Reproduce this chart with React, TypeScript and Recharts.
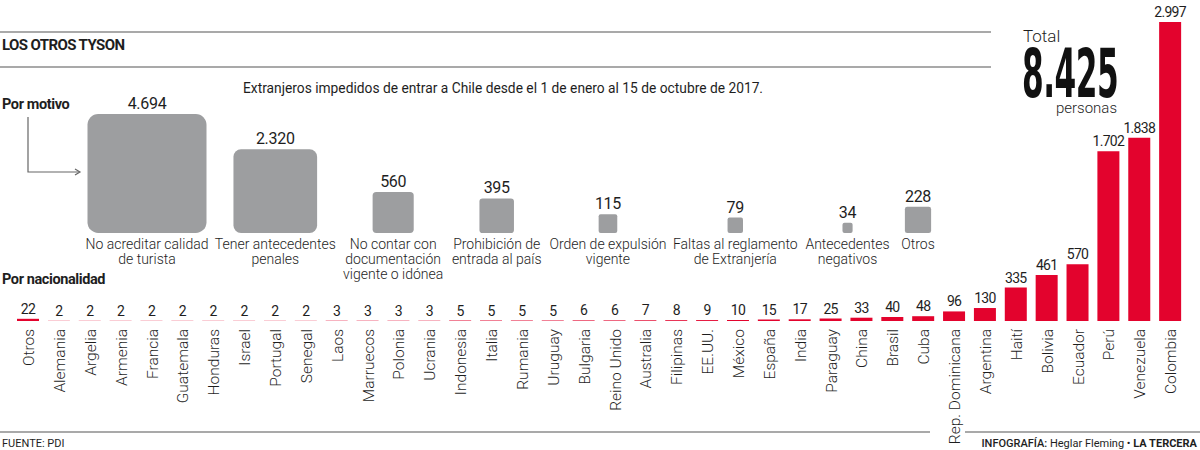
import React from 'react';
import {
  BarChart,
  Bar,
  XAxis,
  YAxis,
  ZAxis,
  LabelList,
  ScatterChart,
  Scatter,
} from 'recharts';

// Por nacionalidad
const paises = [
  'Otros', 'Alemania', 'Argelia', 'Armenia', 'Francia', 'Guatemala', 'Honduras', 'Israel',
  'Portugal', 'Senegal', 'Laos', 'Marruecos', 'Polonia', 'Ucrania', 'Indonesia', 'Italia',
  'Rumania', 'Uruguay', 'Bulgaria', 'Reino Unido', 'Australia', 'Filipinas', 'EE.UU.', 'México',
  'España', 'India', 'Paraguay', 'China', 'Brasil', 'Cuba', 'Rep. Dominicana', 'Argentina',
  'Haití', 'Bolivia', 'Ecuador', 'Perú', 'Venezuela', 'Colombia',
];
const personas = [
  22, 2, 2, 2, 2, 2, 2, 2, 2, 2, 3, 3, 3, 3, 5, 5, 5, 5, 6, 6, 7, 8, 9, 10, 15, 17, 25, 33, 40,
  48, 96, 130, 335, 461, 570, 1702, 1838, 2997,
];

// Por motivo
const motivos = [
  'No acreditar calidad\nde turista',
  'Tener antecedentes\npenales',
  'No contar con\ndocumentación\nvigente o idónea',
  'Prohibición de\nentrada al país',
  'Orden de expulsión\nvigente',
  'Faltas al reglamento\nde Extranjería',
  'Antecedentes\nnegativos',
  'Otros',
];
const motivoValores = [4694, 2320, 560, 395, 115, 79, 34, 228];

const TOTAL = '8.425';

const RED = '#e3032d';
const GRAY = '#9d9ea0';
const LINE = '#8c8c8c';
const TEXT = '#1e1e1e';
const LIGHT = "Roboto, 'Noto Sans', sans-serif";
const MOTIVO_FONT = 14;

const fmt = (v: number) => String(v).replace(/\B(?=(\d{3})+(?!\d))/g, '.');

// squares sit side by side, spaced by the width of their captions
let ctx: CanvasRenderingContext2D | null = null;
const textWidth = (s: string) => {
  if (!ctx) ctx = document.createElement('canvas').getContext('2d');
  if (!ctx) return s.length * 6.5;
  ctx.font = `300 ${MOTIVO_FONT}px Roboto`;
  return ctx.measureText(s).width;
};
const captionW = motivos.map((m) => Math.max(...m.split('\n').map(textWidth)));
const motivoX: number[] = [];
captionW.forEach((w, i) => {
  motivoX.push(i === 0 ? 0 : motivoX[i - 1] + (captionW[i - 1] + w) / 2 + 18);
});

const barData = paises.map((p, i) => ({ pais: p, valor: personas[i] }));
const motivoData = motivos.map((m, i) => ({ motivo: m, valor: motivoValores[i], x: motivoX[i], y: 0 }));

const PaisTick = ({ x, y, payload }: any) => (
  <g transform={`translate(${x},${y})`}>
    <text
      transform="rotate(-90)"
      textAnchor="end"
      dy="0.36em"
      fontFamily={LIGHT}
      fontWeight={300}
      fontSize={15.5}
      fill={TEXT}
    >
      {payload.value}
    </text>
  </g>
);

const Cuadro = (props: any) => {
  const { cx, cy, size, width, payload } = props;
  const area = typeof size === 'number' ? size : Math.PI * Math.pow(width / 2, 2);
  const side = Math.sqrt(Math.max(area, 0));
  const lines: string[] = payload.motivo.split('\n');
  return (
    <g>
      <rect
        x={cx - side / 2}
        y={cy - side}
        width={side}
        height={side}
        rx={Math.max(2, side * 0.09)}
        fill={GRAY}
      />
      <text
        x={cx}
        y={cy - side - 5}
        textAnchor="middle"
        fontFamily={LIGHT}
        fontSize={16}
        letterSpacing={-0.3}
        fill={TEXT}
      >
        {fmt(payload.valor)}
      </text>
      <text
        x={cx}
        y={cy + 16}
        textAnchor="middle"
        fontFamily={LIGHT}
        fontWeight={300}
        fontSize={MOTIVO_FONT}
        fill={TEXT}
      >
        {lines.map((l, i) => (
          <tspan key={i} x={cx} dy={i === 0 ? 0 : 15}>
            {l}
          </tspan>
        ))}
      </text>
    </g>
  );
};

export default function App() {
  return (
    <div
      style={{
        position: 'fixed',
        left: 0,
        top: 0,
        width: 1200,
        height: 450,
        background: '#fff',
        overflow: 'hidden',
      }}
    >
      <svg width={1200} height={450} style={{ position: 'absolute', left: 0, top: 0 }}>
        <line x1={0} y1={32} x2={991} y2={32} stroke={LINE} strokeWidth={1.5} />
        <line x1={0} y1={67} x2={991} y2={67} stroke={LINE} strokeWidth={1.5} />
        <line x1={0} y1={432} x2={930} y2={432} stroke={LINE} strokeWidth={1.5} />
        <line x1={965} y1={432} x2={1200} y2={432} stroke={LINE} strokeWidth={1.5} />
        <text x={2} y={50} fontFamily={LIGHT} fontWeight={700} fontSize={15} letterSpacing={-0.6} fill={TEXT}>
          LOS OTROS TYSON
        </text>
        <text x={243} y={93} fontFamily={LIGHT} fontSize={14.5} textLength={520} lengthAdjust="spacingAndGlyphs" fill={TEXT}>
          Extranjeros impedidos de entrar a Chile desde el 1 de enero al 15 de octubre de 2017.
        </text>
        <text x={2} y={109} fontFamily={LIGHT} fontWeight={700} fontSize={14.5} letterSpacing={-0.4} fill={TEXT}>
          Por motivo
        </text>
        <text x={2} y={284} fontFamily={LIGHT} fontWeight={700} fontSize={14.5} letterSpacing={-0.4} fill={TEXT}>
          Por nacionalidad
        </text>
        <polyline points="28,117 28,172 79,172" fill="none" stroke="#666" strokeWidth={1.2} />
        <polyline points="75,169 80,172 75,175" fill="none" stroke="#666" strokeWidth={1.2} />
        <text x={1023} y={42} fontFamily={LIGHT} fontWeight={300} fontSize={17} fill={TEXT}>
          Total
        </text>
        <g transform="translate(1022,97) scale(0.51,1)">
          <text
            x={0}
            y={0}
            fontFamily="'DejaVu Sans Condensed', 'DejaVu Sans', sans-serif"
            fontWeight={700}
            fontSize={68}
            letterSpacing={-1}
            fill="#111"
          >
            {TOTAL}
          </text>
        </g>
        <text x={1117} y={113} textAnchor="end" fontFamily={LIGHT} fontWeight={300} fontSize={15} fill={TEXT}>
          personas
        </text>
        <text x={2} y={447} fontFamily={LIGHT} fontSize={11} fill={TEXT}>
          FUENTE: PDI
        </text>
        <text x={1197} y={447} textAnchor="end" fontFamily={LIGHT} fontSize={11} fill={TEXT}>
          <tspan fontWeight={500}>INFOGRAFÍA:</tspan>
          <tspan> Heglar Fleming • </tspan>
          <tspan fontWeight={700}>LA TERCERA</tspan>
        </text>
      </svg>

      <div style={{ position: 'absolute', left: 0, top: 0 }}>
        <BarChart
          width={1200}
          height={450}
          data={barData}
          margin={{ top: 22, right: 14, bottom: 0, left: 13 }}
          barSize={22}
        >
          <XAxis
            dataKey="pais"
            interval={0}
            axisLine={false}
            tickLine={false}
            height={129}
            tick={<PaisTick />}
          />
          <YAxis hide domain={[0, 'dataMax']} />
          <Bar dataKey="valor" fill={RED} isAnimationActive={false}>
            <LabelList
              dataKey="valor"
              position="top"
              offset={5}
              formatter={(v: any) => fmt(Number(v))}
              style={{ fontFamily: LIGHT, fontSize: 14, letterSpacing: -0.7, fill: TEXT }}
            />
          </Bar>
        </BarChart>
      </div>

      <div style={{ position: 'absolute', left: 0, top: 0 }}>
        <ScatterChart width={1000} height={450} margin={{ top: 0, right: 82, bottom: 217, left: 147 }}>
          <XAxis dataKey="x" type="number" hide domain={[0, 'dataMax']} />
          <YAxis dataKey="y" type="number" hide domain={[0, 1]} />
          <ZAxis dataKey="valor" type="number" domain={[0, 'dataMax']} range={[0, 14161]} />
          <Scatter data={motivoData} shape={<Cuadro />} isAnimationActive={false} />
        </ScatterChart>
      </div>
    </div>
  );
}
